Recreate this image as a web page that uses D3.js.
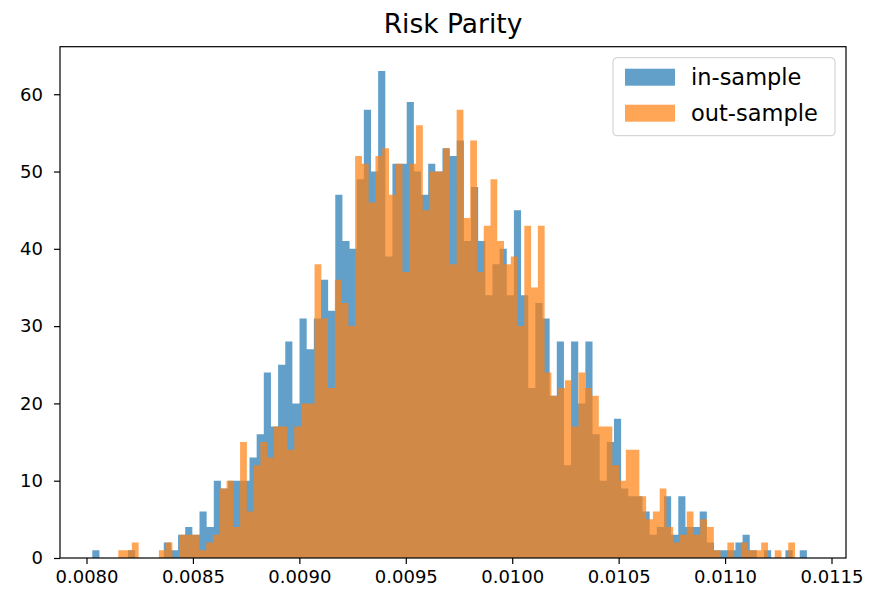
<!DOCTYPE html>
<html lang="en">
<head>
<meta charset="UTF-8" />
<title>Risk Parity</title>
<script src="https://d3js.org/d3.v7.min.js"></script>
<style>
  body { margin: 0; background: #fff; }
  text { font-family: "DejaVu Sans", sans-serif; fill: #000; }
</style>
</head>
<body>
<script type="text/javascript">

// histogram counts, 100 bins each
var inSample = [
  1, 0, 0, 0, 0, 1, 0, 0, 0, 0,
  2, 1, 3, 4, 3, 6, 4, 10, 9, 10,
  10, 10, 13, 16, 24, 17, 25, 28, 20, 31,
  27, 31, 36, 32, 47, 41, 40, 49, 58, 50,
  63, 39, 51, 51, 59, 50, 47, 51, 50, 53,
  52, 54, 41, 48, 41, 34, 38, 40, 34, 45,
  34, 22, 33, 31, 21, 28, 12, 28, 20, 28,
  16, 10, 15, 18, 9, 8, 8, 6, 3, 4,
  8, 3, 8, 4, 4, 6, 2, 1, 1, 1,
  2, 3, 1, 0, 1, 0, 0, 1, 0, 1
];
var outSample = [
  1, 1, 2, 0, 0, 0, 1, 2, 0, 3,
  3, 3, 1, 2, 3, 9, 10, 4, 15, 6,
  12, 15, 13, 17, 17, 14, 17, 20, 20, 38,
  31, 22, 36, 33, 30, 52, 51, 46, 52, 53,
  47, 51, 37, 51, 56, 45, 50, 50, 53, 38,
  58, 44, 54, 37, 43, 49, 41, 38, 39, 30,
  43, 35, 43, 24, 21, 22, 23, 17, 24, 22,
  21, 17, 17, 12, 10, 14, 14, 8, 5, 6,
  9, 4, 2, 3, 6, 3, 5, 4, 1, 0,
  2, 0, 2, 1, 1, 2, 0, 1, 0, 2
];

// data ranges (first bin left edge, last bin right edge)
var inRange = [0.0080273, 0.0113844];
var outRange = [0.0081494, 0.0113286];

var xLimits = [0.0078755, 0.0115681];
var yLimits = [0, 66.15];
var xTicks = [0.0080, 0.0085, 0.0090, 0.0095, 0.0100, 0.0105, 0.0110, 0.0115];
var yTicks = [0, 10, 20, 30, 40, 50, 60];
var seriesNames = ["in-sample", "out-sample"];
var seriesColors = ["#1f77b4", "#ff7f0e"];
var title = "Risk Parity";

var W = 877, H = 602;
var margin = {top: 46.7, right: 31, bottom: 44, left: 60};
var width = W - margin.left - margin.right,
    height = H - margin.top - margin.bottom;

var svg = d3.select("body")
  .append("svg")
  .attr("width", W)
  .attr("height", H);

var g = svg.append("g")
  .attr("transform", "translate(" + margin.left + "," + margin.top + ")");

var x = d3.scaleLinear().domain(xLimits).range([0, width]);
var y = d3.scaleLinear().domain(yLimits).range([height, 0]);

// turn counts + range into bin steps like matplotlib does
function makeBins(counts, range) {
  var step = (range[1] - range[0]) / counts.length;
  var pts = counts.map(function(n, i) {
    return {x: range[0] + i * step, n: n};
  });
  // closing point for the last bin
  pts.push({x: range[1], n: counts[counts.length - 1]});
  return pts;
}

var series = [makeBins(inSample, inRange), makeBins(outSample, outRange)];

// each histogram as one stepped area, so no seams between bars
var area = d3.area()
  .curve(d3.curveStepAfter)
  .x(function(d) { return x(d.x); })
  .y0(y(0))
  .y1(function(d) { return y(d.n); });

g.selectAll("path.hist")
  .data(series)
  .enter().append("path")
    .attr("class", "hist")
    .attr("d", area)
    .attr("fill", function(d, i) { return seriesColors[i]; })
    .attr("fill-opacity", 0.7);

// axes
var xAxis = d3.axisBottom(x)
  .tickValues(xTicks)
  .tickFormat(d3.format(".4f"))
  .tickSize(6)
  .tickPadding(6);
var yAxis = d3.axisLeft(y)
  .tickValues(yTicks)
  .tickSize(6)
  .tickPadding(11);

var gx = g.append("g")
  .attr("transform", "translate(0," + height + ")")
  .call(xAxis);
var gy = g.append("g").call(yAxis);

[gx, gy].forEach(function(a) {
  a.select(".domain").remove();
  a.selectAll(".tick line").attr("stroke", "#000").attr("stroke-width", 1.2);
  a.selectAll(".tick text")
    .attr("font-family", "DejaVu Sans")
    .attr("font-size", "18px")
    .attr("fill", "#000");
});

// frame
g.append("rect")
  .attr("width", width)
  .attr("height", height)
  .attr("fill", "none")
  .attr("stroke", "#000")
  .attr("stroke-width", 1.2);

// title
svg.append("text")
  .attr("x", margin.left + width / 2)
  .attr("y", 33)
  .attr("text-anchor", "middle")
  .attr("font-size", "26.5px")
  .text(title);

// legend
var legend = g.append("g")
  .attr("transform", "translate(" + (width - 233) + ",11)");

legend.append("rect")
  .attr("width", 222)
  .attr("height", 78)
  .attr("rx", 4)
  .attr("fill", "#fff")
  .attr("fill-opacity", 0.8)
  .attr("stroke", "#ccc");

var item = legend.selectAll("g.item")
  .data(seriesNames)
  .enter().append("g")
    .attr("class", "item")
    .attr("transform", function(d, i) { return "translate(12," + (11 + i * 36) + ")"; });

item.append("rect")
  .attr("width", 50)
  .attr("height", 17)
  .attr("fill", function(d, i) { return seriesColors[i]; })
  .attr("fill-opacity", 0.7);

item.append("text")
  .attr("x", 66)
  .attr("y", 16)
  .attr("font-size", "22.5px")
  .text(function(d) { return d; });

</script>
</body>
</html>
